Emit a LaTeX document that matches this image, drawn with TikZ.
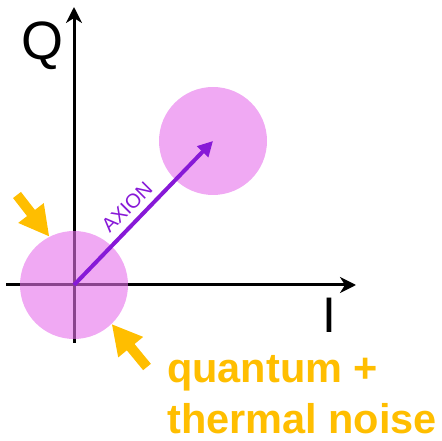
\documentclass[tikz,border=0pt]{standalone}
\usepackage{fontspec}
\setmainfont{Liberation Sans}
\usetikzlibrary{arrows.meta}

\definecolor{cloudpink}{RGB}{230,112,235}
\definecolor{axionpurple}{RGB}{135,25,215}
\definecolor{noiseyellow}{RGB}{255,190,0}

\begin{document}
\begin{tikzpicture}[x=1pt,y=1pt,line join=round,
    axis/.style={line width=3pt,-{Stealth[length=16pt,width=16pt,inset=5pt]}},
    cloud/.style={circle,fill=cloudpink,fill opacity=0.6,minimum size=108pt,inner sep=0pt},
    kick/.style={noiseyellow,line width=10pt,-{Triangle[length=30pt,width=30pt]}},
    noise/.style={noiseyellow,anchor=base west,inner sep=0pt,
      font=\fontsize{41.5}{50}\selectfont\bfseries}]
  \useasboundingbox (0,0) rectangle (441,441);

  % axes
  \coordinate (O) at (74,156);
  \coordinate (qlo) at (74,98);
  \coordinate (qhi) at (74,434);
  \coordinate (ilo) at (6,156);
  \coordinate (ihi) at (356,156);
  \draw[axis] (qlo) -- (qhi);
  \draw[axis] (ilo) -- (ihi);
  \node[anchor=base west,inner sep=0pt,font=\fontsize{54}{54}\selectfont] (qlab) at (21,381) {Q};
  \node[anchor=base,inner sep=0pt,font=\fontsize{50}{50}\selectfont] (ilab) at (329.5,108) {I};

  % noise clouds
  \node[cloud] (vac) at (O) {};
  \node[cloud] (sig) at (213,300) {};

  % axion signal
  \draw[axionpurple,line width=4pt,-{Triangle[length=15pt,width=15pt]}] (vac.center) -- (sig.center);
  \node[axionpurple,rotate=45,inner sep=0pt,font=\fontsize{20}{20}\selectfont] (axion) at (127,234) {AXION};

  % noise arrows
  \coordinate (kickA) at (17,246);
  \coordinate (kickB) at (147,74);
  \draw[kick] (kickA) -- (vac.117);
  \draw[kick] (kickB) -- (vac.-46);

  \node[noise] (quantum) at (167,58) {quantum +};
  \node[noise] (thermal) at (167,8) {thermal noise};
\end{tikzpicture}
\end{document}
